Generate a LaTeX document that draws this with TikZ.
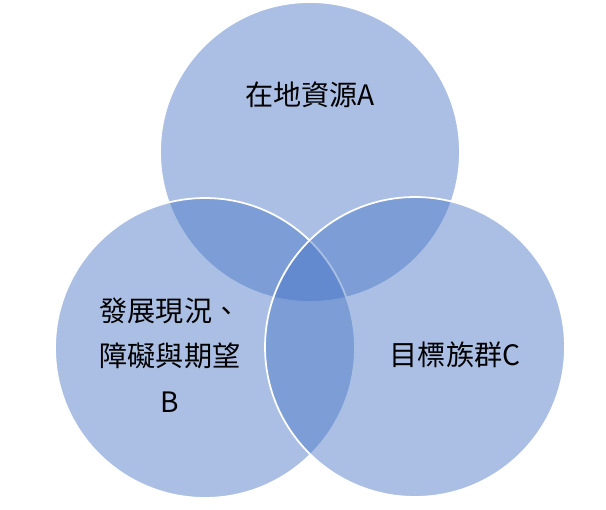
\documentclass[tikz,border=0pt]{standalone}
\usepackage{fontspec}
\setmainfont{Noto Sans CJK TC}
\usetikzlibrary{positioning}
\definecolor{setblue}{RGB}{68,114,196}
\tikzset{
  setcircle/.style={circle,minimum size=6cm,inner sep=0pt,fill=setblue,fill opacity=0.45,draw=white,line width=1pt},
  setlabel/.style={font=\fontsize{16}{26}\selectfont,align=center,text=black}
}
\begin{document}
\begin{tikzpicture}[x=0.02cm,y=-0.02cm]
  \useasboundingbox (0,0) rectangle (606,510);
  \node [setcircle] (setA) at (310,152) {};
  \node [setcircle] (setB) at (205,348) {};
  \node [setcircle] (setC) at (415,347) {};

  \node [setlabel] (labA) at (310,95) {在地資源A};
  \node [setlabel] (labB) at (170,355) {發展現況、\\障礙與期望\\B};
  \node [setlabel] (labC) at (455,355) {目標族群C};
\end{tikzpicture}
\end{document}
